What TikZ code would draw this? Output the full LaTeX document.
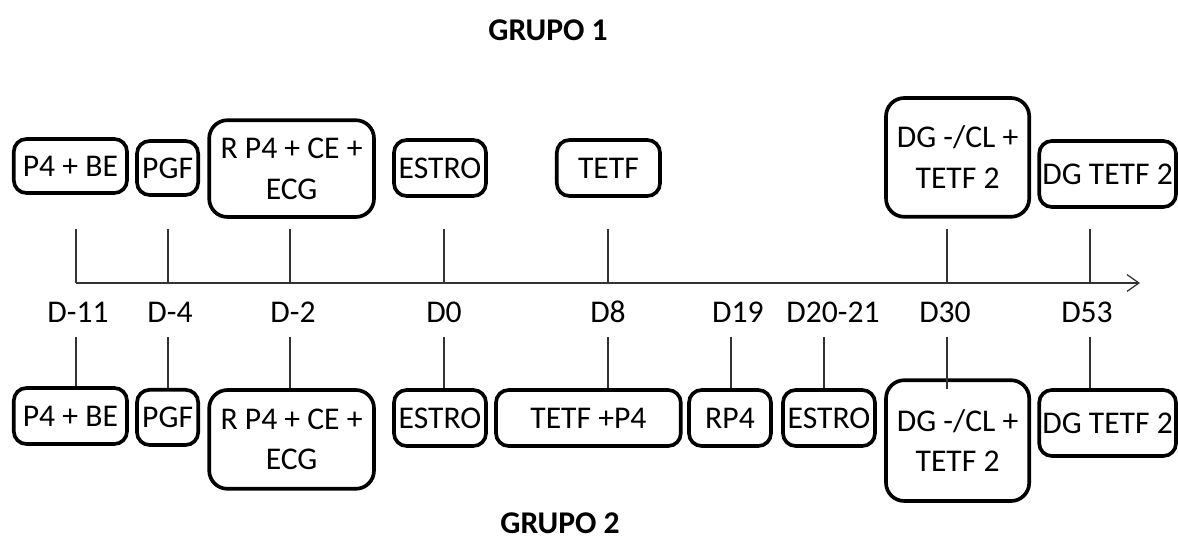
\documentclass[tikz,border=0pt]{standalone}
\usepackage{fontspec}
\setmainfont{Carlito}
\usetikzlibrary{arrows.meta,positioning,calc}

\begin{document}
\begin{tikzpicture}[
evt/.style={draw, rectangle, rounded corners=9pt, line width=2.6pt, inner sep=0pt,
              align=center, font=\fontsize{22.5}{29}\selectfont},
big/.style={rounded corners=13pt},
tck/.style={line width=0.9pt, draw=black!80},
lbl/.style={anchor=base, inner sep=0pt, font=\fontsize{22.5}{29}\selectfont},
ttl/.style={anchor=base, inner sep=0pt, font=\fontsize{22.5}{29}\selectfont\bfseries},
]
\useasboundingbox (0,-6.425) rectangle (29.45,7.075);

% titles
\node[ttl] (g1) at (13.7,6.075) {GRUPO 1};
\node[ttl] (g2) at (14.0,-6.27) {GRUPO 2};

% time axis
\coordinate (ax0) at (1.9,0);
\coordinate (ax1) at (28.5,0);
\draw[tck, -{Straight Barb[length=8.5pt,width=12pt]}] (ax0) -- (ax1);
\foreach \n/\x in {d11/1.9, d4/4.2, d2/7.25, d0/11.1, d8/15.2, d19/18.275,
                   d2021/20.6, d30/23.675, d53/27.25}
  \coordinate (\n) at (\x,0);

% day labels
\node[lbl] (l11) at (1.95,-0.975) {D-11};
\node[lbl] (l4) at (4.25,-0.975) {D-4};
\node[lbl] (l2) at (7.325,-0.975) {D-2};
\node[lbl] (l0) at (11.1,-0.975) {D0};
\node[lbl] (l8) at (15.2,-0.975) {D8};
\node[lbl] (l19) at (18.45,-0.975) {D19};
\node[lbl] (l2021) at (20.825,-0.975) {D20-21};
\node[lbl] (l30) at (23.625,-0.975) {D30};
\node[lbl] (l53) at (27.175,-0.975) {D53};

% grupo 1
\node[evt, minimum width=2.83cm, minimum height=1.35cm] (t1) at (1.76,2.925) {P4 + BE};
\node[evt, minimum width=1.53cm, minimum height=1.35cm] (t2) at (4.19,2.875) {PGF};
\node[evt, big, minimum width=4.12cm, minimum height=2.42cm] (t3) at (7.29,2.86) {R P4 + CE +\\ECG};
\node[evt, minimum width=2.3cm, minimum height=1.4cm] (t4) at (11.0,2.875) {ESTRO};
\node[evt, minimum width=2.58cm, minimum height=1.4cm] (t5) at (15.21,2.875) {TETF};
\node[evt, big, minimum width=3.58cm, minimum height=2.97cm] (t6) at (23.94,3.14) {DG -/CL +\\TETF 2};
\node[evt, minimum width=3.42cm, minimum height=1.65cm] (t7) at (27.69,2.725) {DG TETF 2};

\foreach \n in {d11,d4,d2,d0,d8,d30,d53}
  \draw[tck] (\n) -- ++(0,1.35);

% grupo 2
\node[evt, minimum width=2.83cm, minimum height=1.4cm] (b1) at (1.76,-3.325) {P4 + BE};
\node[evt, minimum width=1.53cm, minimum height=1.38cm] (b2) at (4.19,-3.36) {PGF};
\node[evt, big, minimum width=4.12cm, minimum height=2.47cm] (b3) at (7.29,-3.91) {R P4 + CE +\\ECG};
\node[evt, minimum width=2.3cm, minimum height=1.4cm] (b4) at (11.0,-3.375) {ESTRO};
\node[evt, minimum width=4.62cm, minimum height=1.4cm] (b5) at (14.71,-3.375) {TETF +P4};
\node[evt, minimum width=2.05cm, minimum height=1.4cm] (b6) at (18.25,-3.375) {RP4};
\node[evt, minimum width=2.3cm, minimum height=1.4cm] (b7) at (20.725,-3.375) {ESTRO};
\node[evt, big, minimum width=3.58cm, minimum height=3.02cm] (b8) at (23.94,-3.94) {DG -/CL +\\TETF 2};
\node[evt, minimum width=3.42cm, minimum height=1.65cm] (b9) at (27.69,-3.5) {DG TETF 2};

\foreach \n/\b in {d11/b1, d4/b2, d2/b3, d0/b4, d8/b5, d19/b6, d2021/b7, d53/b9}
  \draw[tck] ($(\n)+(0,-1.35)$) -- (\n |- \b.north);
\draw[tck, shorten >=-0.27cm] ($(d30)+(0,-1.35)$) -- (d30 |- b8.north);
\end{tikzpicture}
\end{document}
